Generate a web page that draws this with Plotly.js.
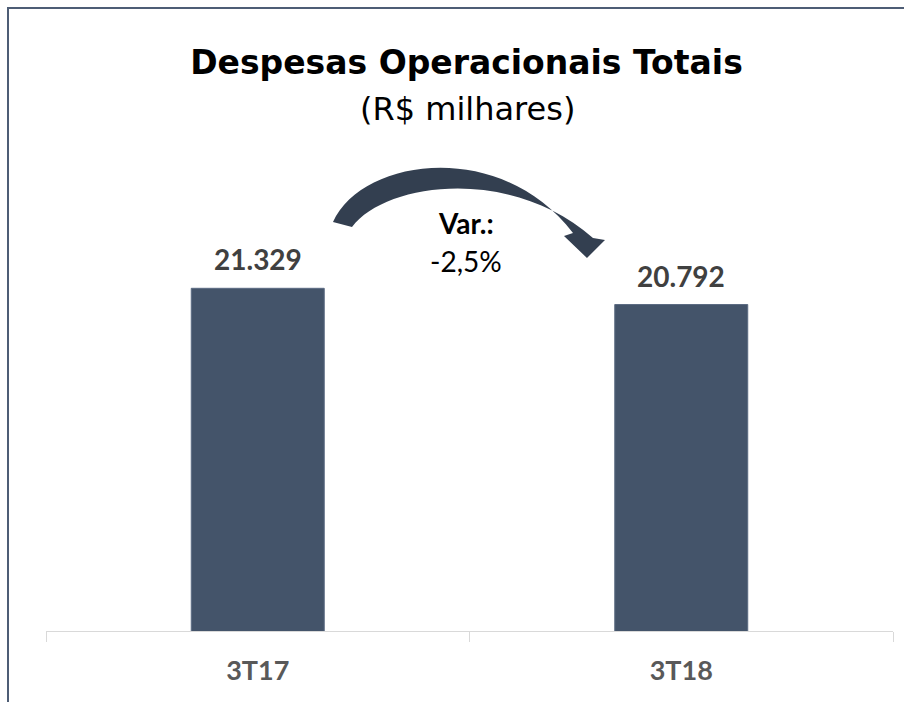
<!DOCTYPE html>
<html>
<head>
<meta charset="utf-8">
<script src="https://cdn.plot.ly/plotly-3.0.1.min.js"></script>
<style>
  html, body { margin: 0; padding: 0; background: #ffffff; }
  #chart { width: 904px; height: 702px; }
</style>
</head>
<body>
<div id="chart"></div>
<script>
// ---- data ----
const categories = ["3T17", "3T18"];
const values = [21329, 20792];
const titleText = "Despesas Operacionais Totais";
const subtitleText = "(R$ milhares)";
const varLabel = "Var.:";

// ---- helpers ----
function fmtThousands(v) {
  return Math.round(v).toString().replace(/\B(?=(\d{3})+(?!\d))/g, ".");
}
const variation = (values[1] / values[0] - 1) * 100;
const varText = variation.toFixed(1).replace(".", ",") + "%";

// plot area in pixels (for decoration placement)
const L = 46, R = 11, T = 147, B = 71, W = 904, H = 702;
const PW = W - L - R, PH = H - T - B;
function px(x) { return (x - L) / PW; }
function py(y) { return (H - B - y) / PH; }
function P(x, y) { return px(x).toFixed(5) + "," + py(y).toFixed(5); }

const arrowPath =
  "M" + P(333, 222) +
  " C" + P(362, 158) + " " + P(500, 138) + " " + P(573, 233) +
  " L" + P(564, 236) +
  " L" + P(587, 258) +
  " L" + P(605, 240) +
  " L" + P(593, 238) +
  " C" + P(512, 166) + " " + P(386, 182) + " " + P(352, 227) +
  " Z";

const labelFont = { family: "Lato, 'DejaVu Sans', sans-serif", size: 28, color: "#404040", weight: "bold" };

const annotations = categories.map((c, i) => ({
  x: c, y: values[i], xref: "x", yref: "y",
  text: "<b>" + fmtThousands(values[i]) + "</b>",
  showarrow: false, yanchor: "bottom", yshift: 10,
  font: labelFont
}));

annotations.push({
  x: px(467), y: py(109), xref: "paper", yref: "paper",
  text: subtitleText, showarrow: false, xanchor: "center", yanchor: "middle",
  font: { family: "'DejaVu Sans', sans-serif", size: 32, color: "#000000" }
});
annotations.push({
  x: px(466), y: py(223), xref: "paper", yref: "paper",
  text: "<b>" + varLabel + "</b>", showarrow: false, xanchor: "center", yanchor: "middle",
  font: { family: "Lato, sans-serif", size: 28, color: "#000000" }
});
annotations.push({
  x: px(466), y: py(261), xref: "paper", yref: "paper",
  text: varText, showarrow: false, xanchor: "center", yanchor: "middle",
  font: { family: "Lato, sans-serif", size: 28, color: "#000000" }
});

const trace = {
  type: "bar",
  x: categories,
  y: values,
  marker: { color: "#44546a", line: { color: "#5b6b82", width: 1 } },
  hoverinfo: "skip"
};

const layout = {
  width: W, height: H,
  margin: { l: L, r: R, t: T, b: B },
  paper_bgcolor: "#ffffff",
  plot_bgcolor: "#ffffff",
  showlegend: false,
  bargap: 0.686,
  title: {
    text: "<b>" + titleText + "</b>",
    font: { family: "'DejaVu Sans', sans-serif", size: 33, color: "#000000" },
    x: 466.5 / W, xanchor: "center",
    y: 1 - 62 / H, yanchor: "middle", yref: "container"
  },
  xaxis: {
    type: "category",
    showline: true, linecolor: "#d9d9d9", linewidth: 1,
    ticks: "outside", tickson: "boundaries", ticklen: 10, tickcolor: "#d9d9d9", tickwidth: 1,
    ticklabelstandoff: 16,
    tickfont: { family: "Lato, sans-serif", size: 27, color: "#595959", weight: "bold" },
    showgrid: false, zeroline: false, fixedrange: true
  },
  yaxis: {
    range: [10000, 26000],
    visible: false, showgrid: false, zeroline: false, fixedrange: true
  },
  annotations: annotations,
  shapes: [
    {
      type: "path", xref: "paper", yref: "paper", path: arrowPath,
      fillcolor: "#333f50", line: { width: 0 }, layer: "above"
    },
    {
      type: "rect", xref: "paper", yref: "paper",
      x0: px(8), x1: px(1000), y0: py(8), y1: py(1000),
      line: { color: "#4e5d75", width: 2 }, fillcolor: "rgba(0,0,0,0)", layer: "above"
    }
  ]
};

Plotly.newPlot("chart", [trace], layout, { staticPlot: true, displayModeBar: false });
</script>
</body>
</html>
